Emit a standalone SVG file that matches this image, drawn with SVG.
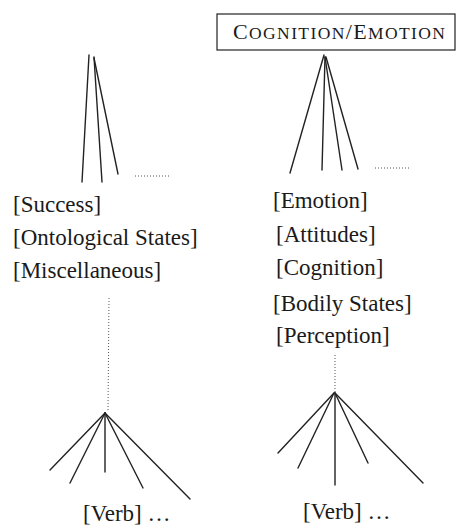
<svg xmlns="http://www.w3.org/2000/svg" width="457" height="525" viewBox="0 0 457 525">
  <style>
    .bg { fill: #ffffff; }
    .edge { stroke: #222; stroke-width: 1.4; fill: none; stroke-linecap: round; }
    .dots { stroke: #555; stroke-width: 1; fill: none; stroke-dasharray: 1 2; }
    .lbl { font-family: "Liberation Serif", "Times New Roman", serif; font-size: 23px; fill: #1a1a1a; }
    .head { fill: #ffffff; stroke: #222; stroke-width: 1.2; }
    .title { font-family: "Liberation Serif", "Times New Roman", serif; fill: #1a1a1a; }
  </style>
  <rect class="bg" x="0" y="0" width="457" height="525"/>

  <!-- heading box -->
  <g id="node-cognition-emotion">
    <rect class="head" x="217" y="14" width="238" height="36"/>
    <text class="title" x="233" y="39" textLength="212" lengthAdjust="spacing"><tspan font-size="22">C</tspan><tspan font-size="17.5">OGNITION</tspan><tspan font-size="22">/E</tspan><tspan font-size="17.5">MOTION</tspan></text>
  </g>

  <!-- category labels, left column -->
  <g id="node-left-categories">
    <text class="lbl" x="13" y="212">[Success]</text>
    <text class="lbl" x="13" y="245">[Ontological States]</text>
    <text class="lbl" x="13" y="278">[Miscellaneous]</text>
  </g>

  <!-- category labels, right column -->
  <g id="node-right-categories">
    <text class="lbl" x="273" y="208">[Emotion]</text>
    <text class="lbl" x="276" y="242">[Attitudes]</text>
    <text class="lbl" x="276" y="275">[Cognition]</text>
    <text class="lbl" x="273" y="311">[Bodily States]</text>
    <text class="lbl" x="276" y="343">[Perception]</text>
  </g>

  <!-- verb leaves -->
  <g id="node-left-verb">
    <text class="lbl" x="83" y="521" font-size="22">[Verb] …</text>
  </g>
  <g id="node-right-verb">
    <text class="lbl" x="303" y="519" font-size="22">[Verb] …</text>
  </g>

  <!-- connectors -->
  <g id="connectors">
    <!-- left upper fan -->
    <line class="edge" x1="89" y1="55" x2="82" y2="182"/>
    <line class="edge" x1="94" y1="57" x2="102" y2="182"/>
    <line class="edge" x1="94" y1="58" x2="118" y2="174"/>
    <line class="dots" x1="135" y1="176" x2="171" y2="176"/>

    <!-- right upper fan -->
    <line class="edge" x1="324" y1="55" x2="290" y2="173"/>
    <line class="edge" x1="325" y1="57" x2="322" y2="170"/>
    <line class="edge" x1="325" y1="57" x2="342" y2="170"/>
    <line class="edge" x1="326" y1="57" x2="358" y2="169"/>
    <line class="dots" x1="375" y1="168" x2="410" y2="168"/>

    <!-- left lower fan -->
    <line class="dots" x1="109" y1="298" x2="108" y2="412"/>
    <line class="edge" x1="105" y1="413" x2="50" y2="470"/>
    <line class="edge" x1="105" y1="413" x2="70" y2="483"/>
    <line class="edge" x1="105" y1="413" x2="105" y2="472"/>
    <line class="edge" x1="105" y1="413" x2="143" y2="488"/>
    <line class="edge" x1="105" y1="413" x2="190" y2="499"/>

    <!-- right lower fan -->
    <line class="dots" x1="335" y1="355" x2="335" y2="392"/>
    <line class="edge" x1="334" y1="393" x2="278" y2="453"/>
    <line class="edge" x1="334" y1="393" x2="298" y2="468"/>
    <line class="edge" x1="335" y1="393" x2="335" y2="485"/>
    <line class="edge" x1="335" y1="393" x2="368" y2="463"/>
    <line class="edge" x1="335" y1="393" x2="423" y2="483"/>
  </g>
</svg>
